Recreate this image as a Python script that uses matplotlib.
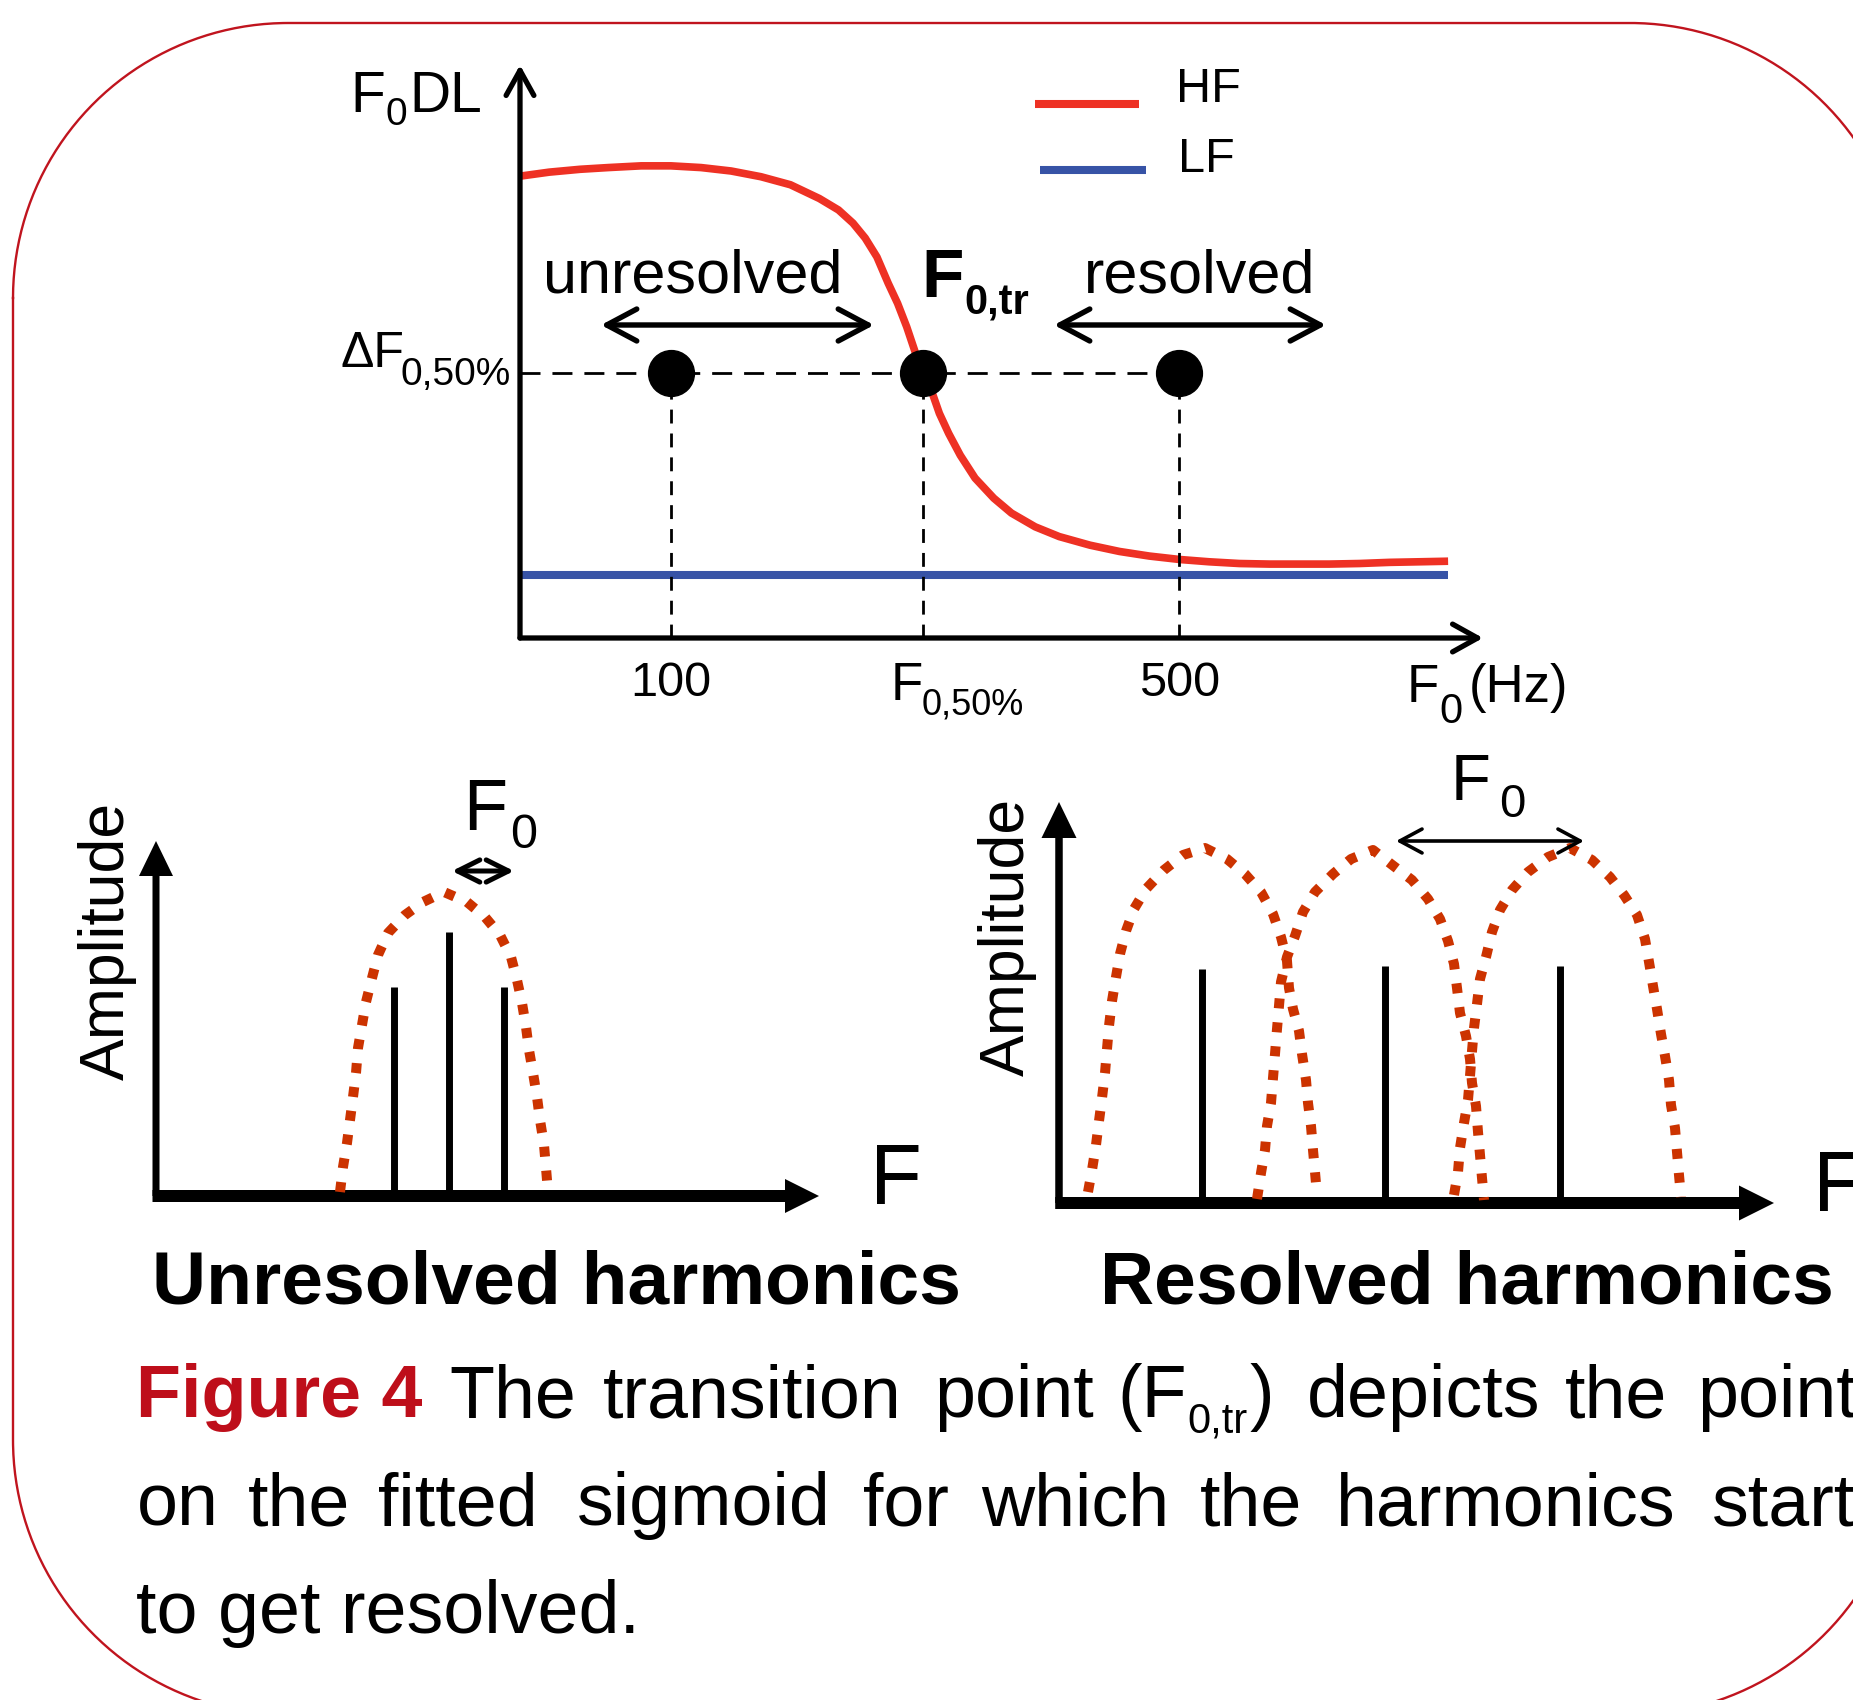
import matplotlib
matplotlib.use("Agg")
import matplotlib.pyplot as plt
import numpy as np
from matplotlib.ticker import NullLocator

plt.rcParams['font.family'] = ['Liberation Sans', 'DejaVu Sans']

# --- top panel: F0 difference limen against F0 (log axis)
hf_f0 = [62, 68, 75, 82, 91, 100, 110, 121, 133, 146, 160, 170, 178, 185, 192, 199,
         205, 211, 217, 223, 228, 234, 241, 250, 262, 278, 294, 317, 342, 377, 414,
         455, 501, 550, 605, 666, 732, 804, 885, 973, 1070, 1172]
hf_dl = [80.6, 81.3, 81.8, 82.1, 82.4, 82.4, 82.1, 81.5, 80.5, 79.1, 76.7, 74.7, 72.4,
         69.8, 66.5, 61.9, 58.4, 54.3, 49.7, 46.5, 43.3, 39.2, 35.7, 31.9, 27.9, 24.4,
         21.8, 19.4, 17.7, 16.2, 15.1, 14.3, 13.7, 13.3, 13.0, 12.9, 12.9, 12.9, 13.0,
         13.2, 13.3, 13.4]
lf_f0 = [62, 1172]
lf_dl = [11.0, 11.0]
marker_f0 = [100, 222, 500]
dl_50 = 46.3
f0_ticks = [100, 500]
f0_ticklabels = ['100', '500']
f0_lim = (62, 1309)

# --- bottom left: unresolved harmonics (arbitrary units)
unres_harm_f = [23.8, 29.3, 34.8]
unres_harm_amp = [20.9, 26.4, 20.9]
unres_env_f = [18.4, 18.7, 19.1, 19.4, 19.7, 20.0, 20.2, 20.6, 21.0, 21.6, 22.2, 23.2,
               24.9, 26.7, 28.8, 31.1, 32.9, 34.4, 35.5, 36.1, 36.6, 37.0, 37.3, 37.7,
               38.1, 38.4, 38.8, 39.0, 39.2]
unres_env_amp = [0.4, 2.9, 5.3, 7.6, 9.9, 12.3, 14.8, 17.1, 19.4, 21.8, 24.1, 26.3,
                 28.1, 29.4, 30.4, 29.4, 27.9, 26.1, 23.9, 21.6, 19.3, 16.9, 14.6, 12.3,
                 9.9, 7.6, 5.1, 2.8, 0.4]

# --- bottom right: resolved harmonics
res_harm_f = [14.3, 32.6, 50.1]
res_harm_amp = [23.4, 23.7, 23.7]
res_env1_f = [2.9, 3.3, 3.7, 4.0, 4.3, 4.6, 4.8, 5.0, 5.3, 5.7, 6.1, 6.7, 7.5, 8.7, 10.5,
              12.4, 14.6, 16.8, 18.6, 20.2, 21.4, 22.2, 22.8, 23.0, 23.4, 24.0, 24.3,
              24.7, 24.9, 25.2, 25.4, 25.6, 25.8]
res_env1_amp = [1.1, 3.3, 5.8, 8.2, 10.5, 13.0, 15.4, 17.7, 20.2, 22.6, 24.9, 27.2, 29.4,
                31.4, 33.3, 34.8, 35.5, 34.4, 32.9, 31.1, 28.9, 26.6, 24.2, 21.5, 19.4,
                17.2, 14.9, 12.3, 10.0, 7.7, 5.3, 3.1, 0.8]
res_env2_f = [19.8, 20.2, 20.6, 20.8, 21.2, 21.4, 21.6, 21.8, 22.0, 22.2, 22.8, 23.6,
              24.4, 25.6, 27.4, 29.2, 31.4, 33.2, 35.3, 36.9, 38.1, 38.9, 39.5, 39.8,
              40.1, 40.7, 41.1, 41.3, 41.7, 41.9, 42.1, 42.3, 42.5]
res_env2_amp = [0.4, 3.0, 5.3, 7.7, 10.0, 12.5, 14.9, 17.4, 19.7, 22.1, 24.6, 26.7, 29.1,
                31.1, 32.9, 34.4, 35.3, 33.9, 32.3, 30.4, 28.4, 26.2, 23.9, 21.5, 19.0,
                16.7, 14.4, 12.0, 9.7, 7.1, 4.8, 2.5, 0.3]
res_env3_f = [39.5, 39.9, 40.1, 40.5, 40.9, 41.1, 41.3, 41.5, 41.8, 42.1, 42.7, 43.3,
              44.1, 45.3, 46.9, 48.9, 51.1, 53.3, 55.1, 56.5, 57.8, 58.6, 59.0, 59.4,
              59.8, 60.2, 60.6, 61.0, 61.2, 61.6, 61.8, 62.0, 62.2]
res_env3_amp = [0.8, 3.1, 5.5, 8.0, 10.3, 12.7, 15.2, 17.5, 19.9, 22.4, 24.6, 27.1, 29.3,
                31.3, 33.1, 34.6, 35.5, 34.3, 32.6, 30.8, 28.8, 26.4, 24.1, 21.7, 19.4,
                16.9, 14.7, 12.3, 9.8, 7.5, 5.1, 2.8, 0.6]

HF_RED = '#EE3124'
LF_BLUE = '#3753A6'
ENV = '#CC3300'
BORDER = '#C0141E'
FIG_RED = '#BE0E1A'

W, H = 1853, 1700
fig = plt.figure(figsize=(W / 100, H / 100), dpi=100)
fig.patch.set_facecolor('white')

# background axes in pixel units, for the frame, captions and labels
bg = fig.add_axes([0, 0, 1, 1])
bg.set_xlim(0, W)
bg.set_ylim(H, 0)
bg.axis('off')


def frame_outline(x0, y0, x1, y1, r, n=90):
    # rounded rectangle as a plain polyline (y grows downwards here)
    t = np.linspace(0, np.pi / 2, n)
    c, s = np.cos(t), np.sin(t)
    xs = np.concatenate([x0 + r - r * c, x1 - r + r * s, x1 - r + r * c, x0 + r - r * s])
    ys = np.concatenate([y0 + r - r * s, y0 + r - r * c, y1 - r + r * s, y1 - r + r * c])
    return np.append(xs, xs[0]), np.append(ys, ys[0])


fx, fy = frame_outline(13, 23, 1905, 1715, 275)
bg.plot(fx, fy, color=BORDER, lw=1.7)


def sub_text(x, y, main, sub, size, sub_size, drop, dx=0, tail=None, tail_dx=0, **kw):
    t = bg.text(x, y, main, fontsize=size, va='baseline', ha='left', **kw)
    s = bg.annotate(sub, xy=(1, y), xycoords=(t, 'data'), xytext=(dx, -drop),
                    textcoords='offset pixels', fontsize=sub_size,
                    va='baseline', ha='left', **kw)
    if tail:
        bg.annotate(tail, xy=(1, y), xycoords=(s, 'data'), xytext=(tail_dx, 0),
                    textcoords='offset pixels', fontsize=size,
                    va='baseline', ha='left', **kw)
    return t


# ---------------- top panel
ax = fig.add_axes([520 / W, (H - 638) / H, (1483 - 520) / W, (638 - 65) / H])
ax.set_xscale('log')
ax.set_xlim(f0_lim)
ax.set_ylim(0, 100)
ax.patch.set_visible(False)
for sp in ax.spines.values():
    sp.set_visible(False)
ax.set_xticks(f0_ticks)
ax.set_xticklabels(f0_ticklabels)
ax.xaxis.set_minor_locator(NullLocator())
ax.set_yticks([])
ax.tick_params(axis='x', length=0, pad=16.5, labelsize=35)

ax.plot(lf_f0, lf_dl, color=LF_BLUE, lw=5.8, solid_capstyle='butt', clip_on=False)
ax.plot(hf_f0, hf_dl, color=HF_RED, lw=5.5, solid_capstyle='butt', clip_on=False)
ax.plot([f0_lim[0], marker_f0[-1]], [dl_50, dl_50], color='k', lw=2,
        linestyle=(0, (7.2, 4.3)), clip_on=False)
ax.vlines(marker_f0, 0, dl_50, colors='k', lw=2, linestyles=[(0, (5, 3.6))])
ax.plot(marker_f0, [dl_50] * len(marker_f0), 'o', ms=33, color='k', zorder=5,
        clip_on=False)

axis_arrow = dict(arrowstyle='->,head_length=1.8,head_width=1.0', mutation_scale=10,
                  lw=3.8, color='k', shrinkA=0, shrinkB=0)
ax.annotate('', xy=(f0_lim[0], 100), xytext=(f0_lim[0], 0), arrowprops=axis_arrow,
            annotation_clip=False)
ax.annotate('', xy=(f0_lim[1], 0), xytext=(f0_lim[0], 0), arrowprops=axis_arrow,
            annotation_clip=False)

range_arrow = dict(arrowstyle='<->,head_length=2.16,head_width=1.15', mutation_scale=10,
                   lw=3.9, color='k', shrinkA=0, shrinkB=0)
bg.annotate('', xy=(874, 325), xytext=(601, 325), arrowprops=range_arrow)
bg.annotate('', xy=(1326, 325), xytext=(1054, 325), arrowprops=range_arrow)

bg.text(543, 292, 'unresolved', fontsize=44, va='baseline')
bg.text(1084, 292, 'resolved', fontsize=44, va='baseline')
sub_text(921, 297, 'F', '0,tr', 50, 30, 16, dx=1, fontweight='bold')

sub_text(350, 112, 'F', '0', 41, 28, 13, dx=1, tail='DL', tail_dx=2)
sub_text(340, 367, 'ΔF', '0,50%', 36, 28, 18, dx=-4)
sub_text(891, 700, 'F', '0,50%', 38, 26, 14, dx=-2)
sub_text(1407, 702, 'F', '0', 38, 30, 21, dx=0, tail='(Hz)', tail_dx=6)

# legend keys
bg.plot([1035, 1139], [104, 104], color=HF_RED, lw=5.8, solid_capstyle='butt')
bg.plot([1040, 1146], [170, 170], color=LF_BLUE, lw=5.8, solid_capstyle='butt')
bg.text(1176, 102, 'HF', fontsize=35, va='baseline')
bg.text(1178, 172, 'LF', fontsize=35, va='baseline')

# ---------------- bottom panels
env_style = dict(color=ENV, lw=7.2, linestyle=(0, (1.0, 1.4)), dash_capstyle='butt',
                 clip_on=False)

axL = fig.add_axes([156 / W, (H - 1196) / H, 700 / W, 400 / H])
axL.set_xlim(0, 70)
axL.set_ylim(0, 40)
axL.axis('off')
axL.arrow(0, 0, 0, 35.5, width=0.7, head_width=3.4, head_length=3.5,
          length_includes_head=True, fc='k', ec='none', clip_on=False)
axL.arrow(-0.35, 0, 66.65, 0, width=1.2, head_width=3.4, head_length=3.4,
          length_includes_head=True, fc='k', ec='none', clip_on=False)
axL.vlines(unres_harm_f, 0, unres_harm_amp, colors='k', lw=5)
axL.plot(unres_env_f, unres_env_amp, **env_style)
axL.annotate('', xy=(35.8, 32.5), xytext=(29.6, 32.5), annotation_clip=False,
             arrowprops=dict(arrowstyle='<->,head_length=1.6,head_width=0.8',
                             mutation_scale=10, lw=3.6, color='k', shrinkA=0, shrinkB=0))

axR = fig.add_axes([1059 / W, (H - 1203) / H, 794 / W, 420 / H])
axR.set_xlim(0, 79.4)
axR.set_ylim(0, 42)
axR.axis('off')
axR.arrow(0, 0, 0, 40.1, width=0.75, head_width=3.5, head_length=3.6,
          length_includes_head=True, fc='k', ec='none', clip_on=False)
axR.arrow(-0.38, 0, 71.88, 0, width=1.2, head_width=3.5, head_length=3.5,
          length_includes_head=True, fc='k', ec='none', clip_on=False)
axR.vlines(res_harm_f, 0, res_harm_amp, colors='k', lw=5)
axR.annotate('', xy=(52.5, 36.2), xytext=(33.7, 36.2), annotation_clip=False,
             arrowprops=dict(arrowstyle='<->,head_length=1.6,head_width=0.86',
                             mutation_scale=10, lw=2.6, color='k', shrinkA=0, shrinkB=0))
for ef, ea in [(res_env1_f, res_env1_amp), (res_env2_f, res_env2_amp),
               (res_env3_f, res_env3_amp)]:
    axR.plot(ef, ea, **env_style)

bg.text(107, 941, 'Amplitude', fontsize=45, rotation=90, ha='center', va='center')
bg.text(1007, 937, 'Amplitude', fontsize=45, rotation=90, ha='center', va='center')
bg.text(870, 1204, 'F', fontsize=61, va='baseline')
bg.text(1813, 1211, 'F', fontsize=61, va='baseline')
sub_text(463, 830, 'F', '0', 52, 35, 18, dx=3)
sub_text(1451, 800, 'F', '0', 47, 34, 17, dx=8)

bg.text(557, 1304, 'Unresolved harmonics', fontsize=54, fontweight='bold',
        ha='center', va='baseline')
bg.text(1467, 1304, 'Resolved harmonics', fontsize=54, fontweight='bold',
        ha='center', va='baseline')

# ---------------- caption (justified lines: words placed one by one)
cap = 53
bg.text(136, 1417, 'Figure 4', fontsize=cap, fontweight='bold', color=FIG_RED,
        va='baseline')
line1 = [('The', 449), ('transition', 603), ('point', 934), ('depicts', 1307),
         ('the', 1565), ('point', 1697)]
for word, x in line1:
    bg.text(x, 1417, word, fontsize=cap, va='baseline')
sub_text(1117, 1417, '(F', '0,tr', cap, 30, 16, dx=1, tail=')', tail_dx=2)

line2 = [('on', 137), ('the', 248), ('fitted', 378), ('sigmoid', 577), ('for', 863),
         ('which', 981), ('the', 1200), ('harmonics', 1336), ('start', 1712)]
for word, x in line2:
    bg.text(x, 1525, word, fontsize=cap, va='baseline')
bg.text(136, 1633, 'to get resolved.', fontsize=cap, va='baseline')

fig.savefig('out.png', dpi=100, facecolor='white')
